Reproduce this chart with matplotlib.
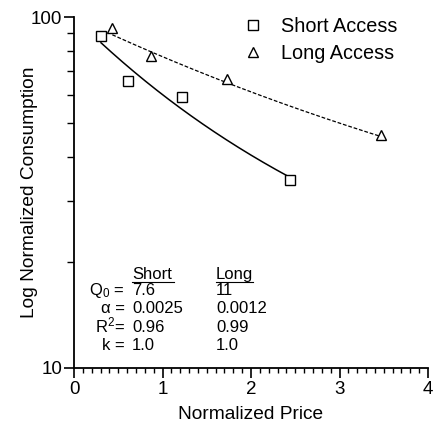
import numpy as np
import matplotlib
matplotlib.use("Agg")
import matplotlib.pyplot as plt
from matplotlib.ticker import FixedLocator, NullFormatter, MultipleLocator

plt.rcParams['font.family'] = ['Liberation Sans', 'DejaVu Sans']
plt.rcParams['mathtext.fontset'] = 'custom'
plt.rcParams['mathtext.rm'] = 'Liberation Sans'
plt.rcParams['mathtext.it'] = 'Liberation Sans:italic'
plt.rcParams['mathtext.default'] = 'regular'

# Data
short_price = [0.305, 0.607, 1.217, 2.44]
short_cons = [88.3, 65.7, 59.2, 34.3]
long_price = [0.433, 0.867, 1.73, 3.47]
long_cons = [92.9, 77.6, 66.6, 46.1]

# Fit parameters (normalized exponential demand)
series_names = ["Short", "Long"]
q0_vals = ["7.6", "11"]
alpha_vals = [0.0025, 0.0012]
r2_vals = ["0.96", "0.99"]
k_vals = [1.0, 1.0]

fig = plt.figure(figsize=(4.34, 4.24), dpi=100)
ax = fig.add_axes([74/434, 56/424, 354/434, 351/424])

def curve(alpha, k, xs):
    return 100 * 10 ** (k * (np.exp(-alpha * 100 * xs) - 1))

xs_s = np.linspace(short_price[0], short_price[-1], 200)
xs_l = np.linspace(long_price[0], long_price[-1], 200)
ax.plot(xs_s, curve(alpha_vals[0], k_vals[0], xs_s), color='black', lw=1.1)
ax.plot(xs_l, curve(alpha_vals[1], k_vals[1], xs_l), color='black', lw=0.9,
        linestyle=(0, (3, 1.5)))

ax.plot(short_price, short_cons, linestyle='none', marker='s', ms=6.8,
        mfc='white', mec='black', mew=1.0, label='Short Access', zorder=3)
ax.plot(long_price, long_cons, linestyle='none', marker='^', ms=7.2,
        mfc='white', mec='black', mew=1.0, label='Long Access', zorder=3)

ax.set_yscale('log')
ax.set_xlim(0, 4)
ax.set_ylim(10, 100)
ax.yaxis.set_major_locator(FixedLocator([10, 100]))
ax.yaxis.set_minor_locator(FixedLocator([20, 30, 40, 50, 60, 70, 80, 90]))
ax.yaxis.set_minor_formatter(NullFormatter())
ax.set_yticklabels(['10', '100'])
ax.xaxis.set_major_locator(MultipleLocator(1))
ax.xaxis.set_minor_locator(MultipleLocator(0.1))

for s in ['top', 'right']:
    ax.spines[s].set_visible(False)
for s in ['left', 'bottom']:
    ax.spines[s].set_linewidth(1.3)

ax.tick_params(axis='both', which='major', length=7, width=1.2, labelsize=13.5)
ax.tick_params(axis='y', which='major', pad=1.5)
ax.tick_params(axis='x', which='major', pad=2)
ax.tick_params(axis='x', which='minor', length=3.5, width=1.0)
ax.tick_params(axis='y', which='minor', length=5, width=1.0)

ax.set_xlabel('Normalized Price', fontsize=13.8, labelpad=6)
ax.set_ylabel('Log Normalized Consumption', fontsize=13.8)
ax.yaxis.set_label_coords((38 - 74) / 354, 0.5)

leg = ax.legend(loc='upper left', bbox_to_anchor=(235/434, 415/424),
                bbox_transform=fig.transFigure, frameon=False, fontsize=14.3,
                handlelength=1.0, handletextpad=0.9, labelspacing=0.4,
                borderaxespad=0)

# Parameter table
fs = 12
def fig_xy(px, py):
    return px / 434, 1 - py / 424

tx = fig.transFigure
row_y = [290, 308, 327, 345]
labels = ['Q$_0$ =', '\u03b1 =', 'R$^2$=', 'k =']
col_x = [132, 216]
fig.text(*fig_xy(132, 279), series_names[0], fontsize=fs, ha='left', va='baseline')
fig.text(*fig_xy(216, 279), series_names[1], fontsize=fs, ha='left', va='baseline')
fig.add_artist(plt.Line2D([132/434, 174/434], [1-282/424, 1-282/424], color='black', lw=0.8, transform=tx))
fig.add_artist(plt.Line2D([216/434, 253/434], [1-282/424, 1-282/424], color='black', lw=0.8, transform=tx))

for i, lab in enumerate(labels):
    fig.text(*fig_xy(125, row_y[i] + 5), lab, fontsize=fs, ha='right', va='baseline')

cols = [
    [q0_vals[0], f"{alpha_vals[0]:.4f}", r2_vals[0], f"{k_vals[0]:.1f}"],
    [q0_vals[1], f"{alpha_vals[1]:.4f}", r2_vals[1], f"{k_vals[1]:.1f}"],
]
for c, xpos in enumerate(col_x):
    for i, val in enumerate(cols[c]):
        fig.text(*fig_xy(xpos, row_y[i] + 5), val, fontsize=fs, ha='left', va='baseline')

fig.savefig('out.png', dpi=100)
